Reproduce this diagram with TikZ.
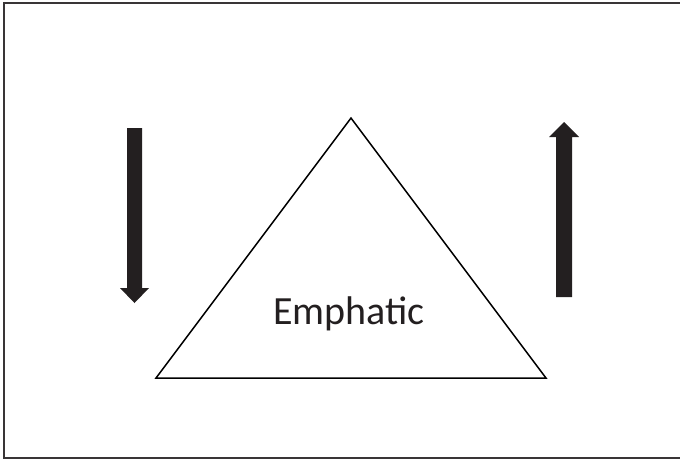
\documentclass[tikz,border=0pt]{standalone}
\usepackage{fontspec}
\setmainfont{Carlito}
\definecolor{inkdark}{HTML}{231F20}
\begin{document}
\begin{tikzpicture}[
    x=1pt, y=-1pt,
    frame/.style={draw=inkdark!90, line width=2pt},
    tri/.style={draw=black, line width=1.5pt, line join=miter},
    bigarrow/.style={fill=inkdark, draw=none}
]
    \useasboundingbox (0,0) rectangle (680,459);

    % Outer frame
    \draw[frame] (681,3) -- (4,3) -- (4,458) -- (681,458);

    % Triangle
    \coordinate (apex) at (351,118);
    \coordinate (bl) at (156,378);
    \coordinate (br) at (546,378);
    \draw[tri] (apex) -- (bl) -- (br) -- cycle;
    \node[font=\fontsize{40}{44}\selectfont, text=inkdark] (emph) at (349,314) {Emphatic};

    % Left arrow (down)
    \fill[bigarrow] (127,128) -- (142,128) -- (142,288) -- (149,288) -- (134.5,303)
        -- (120,288) -- (127,288) -- cycle;

    % Right arrow (up)
    \fill[bigarrow] (556,297) -- (572,297) -- (572,137) -- (579,137) -- (564,122)
        -- (549,137) -- (556,137) -- cycle;
\end{tikzpicture}
\end{document}
